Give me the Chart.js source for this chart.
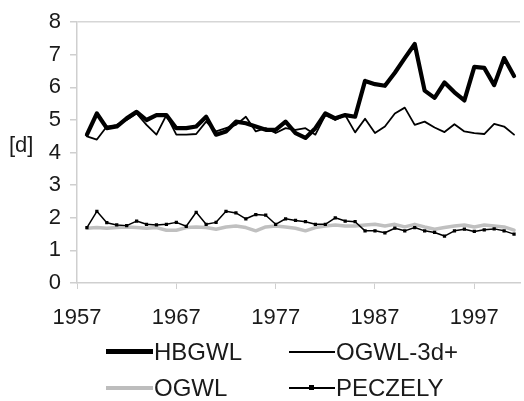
<!DOCTYPE html>
<html>
<head>
<meta charset="utf-8">
<script src="https://cdn.jsdelivr.net/npm/chart.js@4.4.1/dist/chart.umd.min.js"></script>
<style>
  html, body { margin: 0; padding: 0; background: #fff; }
  body { width: 524px; height: 401px; position: relative; overflow: hidden; font-family: "Liberation Sans", Arial, sans-serif; color: #1a1a1a; }
  #c { position: absolute; left: 0; top: 0; }
  .ylab { position: absolute; left: 9px; top: 133px; font-size: 22px; line-height: 24px; }
  .leg { position: absolute; font-size: 24px; line-height: 24px; white-space: nowrap; }
  .sw { position: absolute; }
</style>
</head>
<body>
<canvas id="c" width="524" height="340"></canvas>
<div class="ylab">[d]</div>

<div class="sw" style="left:106px; top:349px; width:47px; height:5px; background:#000;"></div>
<div class="leg" style="left:154px; top:340px;">HBGWL</div>
<div class="sw" style="left:289px; top:351px; width:46px; height:2px; background:#000;"></div>
<div class="leg" style="left:336px; top:340px;">OGWL-3d+</div>
<div class="sw" style="left:106px; top:386px; width:47px; height:4px; background:#bdbdbd;"></div>
<div class="leg" style="left:154px; top:376px;">OGWL</div>
<div class="sw" style="left:289px; top:387px; width:46px; height:2px; background:#000;"></div>
<div class="sw" style="left:309px; top:385px; width:5px; height:5px; background:#000;"></div>
<div class="leg" style="left:336px; top:376px;">PECZELY</div>

<script>
const years = [1958,1959,1960,1961,1962,1963,1964,1965,1966,1967,1968,1969,1970,1971,1972,1973,1974,1975,1976,1977,1978,1979,1980,1981,1982,1983,1984,1985,1986,1987,1988,1989,1990,1991,1992,1993,1994,1995,1996,1997,1998,1999,2000,2001];

const hbgwl = [4.55,5.2,4.75,4.8,5.05,5.25,5.0,5.15,5.15,4.75,4.75,4.8,5.1,4.55,4.65,4.95,4.9,4.8,4.7,4.7,4.95,4.6,4.45,4.75,5.2,5.05,5.15,5.1,6.2,6.1,6.05,6.45,6.9,7.33,5.9,5.68,6.15,5.85,5.6,6.63,6.6,6.07,6.9,6.35];

const ogwl3d = [4.5,4.4,4.8,4.85,5.0,5.2,4.85,4.55,5.15,4.55,4.55,4.57,4.95,4.65,4.75,4.85,5.1,4.65,4.75,4.6,4.75,4.7,4.75,4.55,5.15,5.0,5.15,4.62,5.04,4.6,4.8,5.2,5.38,4.85,4.95,4.77,4.63,4.87,4.65,4.6,4.57,4.88,4.8,4.55];

const ogwl = [1.68,1.7,1.68,1.7,1.72,1.7,1.68,1.7,1.62,1.62,1.7,1.72,1.7,1.65,1.72,1.75,1.7,1.6,1.72,1.75,1.72,1.68,1.6,1.7,1.75,1.78,1.75,1.75,1.78,1.8,1.75,1.8,1.72,1.8,1.72,1.65,1.7,1.75,1.78,1.72,1.78,1.75,1.72,1.62];

const peczely = [1.7,2.2,1.85,1.78,1.76,1.9,1.8,1.78,1.8,1.86,1.74,2.17,1.8,1.86,2.2,2.15,1.97,2.1,2.08,1.8,1.97,1.92,1.88,1.8,1.8,2.0,1.9,1.88,1.6,1.6,1.54,1.68,1.6,1.7,1.6,1.55,1.44,1.6,1.65,1.58,1.63,1.66,1.6,1.5];

const xTicks = [1957,1967,1977,1987,1997];
const yMin = 0, yMax = 8;

const pts = arr => arr.map((v, i) => ({ x: years[i], y: v }));

new Chart(document.getElementById('c'), {
  type: 'line',
  data: {
    datasets: [
      { label: 'HBGWL', data: pts(hbgwl), borderColor: '#000', borderWidth: 4.2, pointRadius: 0, order: 1 },
      { label: 'OGWL-3d+', data: pts(ogwl3d), borderColor: '#000', borderWidth: 1.8, pointRadius: 0, order: 2 },
      { label: 'OGWL', data: pts(ogwl), borderColor: '#c0c0c0', borderWidth: 3.5, pointRadius: 0, order: 4 },
      { label: 'PECZELY', data: pts(peczely), borderColor: '#000', borderWidth: 1.5,
        pointStyle: 'rect', pointRadius: 2.3, pointBackgroundColor: '#000', pointBorderColor: '#000', pointBorderWidth: 0, order: 3 }
    ]
  },
  options: {
    responsive: false,
    animation: false,
    devicePixelRatio: 1,
    layout: { padding: { left: 0, right: 2, top: 20, bottom: 0 } },
    plugins: { legend: { display: false }, tooltip: { enabled: false } },
    elements: { line: { tension: 0, borderJoinStyle: 'round', borderCapStyle: 'round' } },
    font: { family: '"Liberation Sans", Arial, sans-serif' },
    scales: {
      x: {
        type: 'linear',
        min: 1957,
        max: 2001.6,
        afterBuildTicks: s => { s.ticks = xTicks.map(v => ({ value: v })); },
        afterFit: s => { s.height = 57; },
        border: { display: true, color: '#cfcfcf', width: 1.5 },
        grid: { drawOnChartArea: false, tickLength: 6, tickColor: '#cfcfcf' },
        ticks: { autoSkip: false, maxRotation: 0, padding: 16, color: '#1a1a1a',
                 font: { size: 22, family: '"Liberation Sans", Arial, sans-serif' },
                 callback: v => String(v) }
      },
      y: {
        min: yMin,
        max: yMax,
        afterFit: s => { s.width = 77; },
        border: { display: true, color: '#cfcfcf', width: 1.5 },
        grid: { drawOnChartArea: true, tickLength: 7, tickColor: '#cfcfcf',
                color: c => (c.tick && c.tick.value === yMax) ? '#d6d6d6' : 'rgba(0,0,0,0)', lineWidth: 1.5 },
        ticks: { stepSize: 1, padding: 9, color: '#1a1a1a',
                 font: { size: 22, family: '"Liberation Sans", Arial, sans-serif' } }
      }
    }
  }
});
</script>
</body>
</html>
